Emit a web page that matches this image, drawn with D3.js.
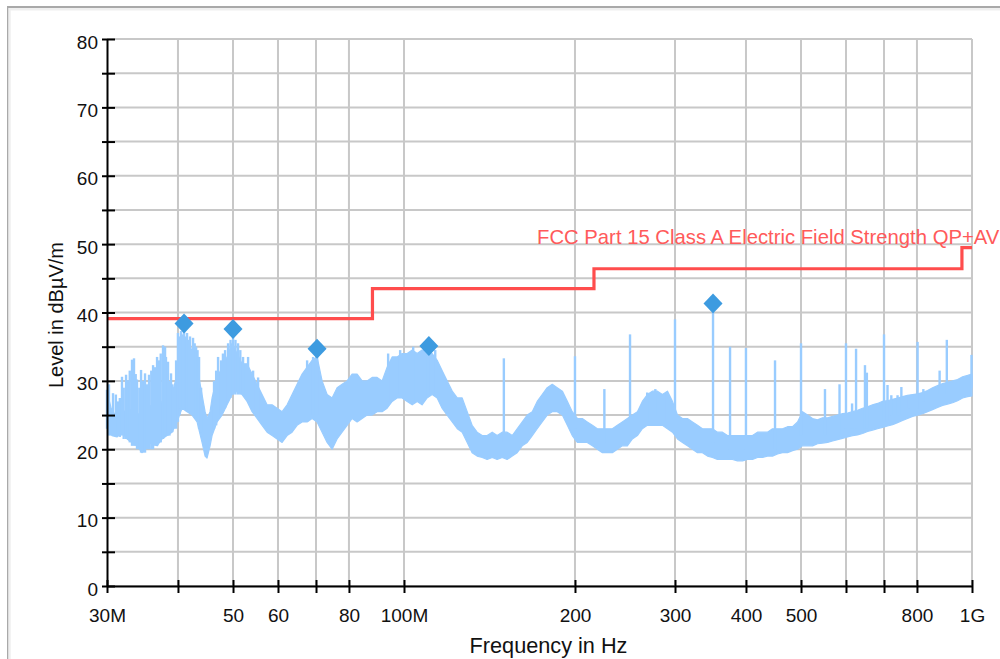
<!DOCTYPE html>
<html><head><meta charset="utf-8">
<script src="https://cdn.jsdelivr.net/npm/d3@7"></script>
<style>
html,body{margin:0;padding:0;background:#fff;}
svg{display:block;font-family:"Liberation Sans",Arial,sans-serif;}
</style></head>
<body><svg id="chart" width="1000" height="659"></svg>
<script>
// ---- data ----
const yTickValues = [0,5,10,15,20,25,30,35,40,45,50,55,60,65,70,75,80];
const yTickLabels = ["0","","10","","20","","30","","40","","50","","60","","70","","80"];
const xTickValues = [30,40,50,60,70,80,100,200,300,400,500,600,700,800,1000];
const xTickLabels = ["30M","","50","60","","80","100M","200","300","400","500","","","800","1G"];
const xGridValues = [40,50,60,70,80,100,200,300,400,500,600,700,800,1000];

// limit line (MHz, dBµV/m)
const limitFreq  = [30, 88, 88, 216, 216, 960, 960, 1000];
const limitLevel = [39.1, 39.1, 43.5, 43.5, 46.4, 46.4, 49.5, 49.5];
const limitLabel = "FCC Part 15 Class A Electric Field Strength QP+AV";

// peak markers
const peakFreq  = [41.0, 50.0, 70.3, 110.6, 350.0];
const peakLevel = [38.4, 37.6, 34.7, 35.1, 41.3];

// spectrum envelope rows: [MHz, low dB, high dB]
const spectrumEnvelope = [
[30.0,23.5,28.5],[30.61,22.0,25.5],[31.24,21.8,25.0],[31.88,22.5,26.0],[32.54,21.5,25.0],
[33.20,21.0,26.0],[33.88,20.5,25.0],[34.58,19.5,25.5],[35.28,20.5,26.0],[36.01,21.0,26.5],
[36.75,20.5,26.0],[37.50,21.5,27.0],[38.27,22.0,27.5],[39.05,22.5,28.0],[39.85,24.0,31.0],
[40.67,26.0,35.0],[41.50,25.5,35.5],[42.35,25.0,34.5],[43.22,24.0,32.0],[44.10,21.0,28.0],
[44.65,19.0,25.5],[45.00,18.7,24.5],[45.56,20.5,25.5],[45.93,22.0,27.5],[46.87,24.0,30.5],
[47.83,25.0,32.0],[48.81,26.5,33.5],[49.81,28.0,35.5],[50.83,28.5,34.0],[51.87,28.0,32.5],
[52.93,27.0,32.5],[54.02,25.5,31.0],[55.12,24.5,29.5],[56.25,23.5,28.0],[57.41,22.5,26.5],
[58.58,22.0,26.5],[59.78,21.5,26.0],[61.01,21.0,25.5],[62.26,22.0,26.5],[63.53,22.5,28.0],
[64.83,23.5,29.5],[66.16,24.0,31.0],[67.52,24.0,32.0],[68.90,24.5,33.0],[70.31,24.0,33.5],
[71.75,22.5,30.0],[73.22,21.0,28.0],[74.72,20.0,27.5],[76.25,21.5,29.0],[77.81,22.5,29.5],
[79.41,23.5,30.0],[81.03,24.5,31.0],[82.69,24.0,31.0],[84.39,24.5,30.0],[86.12,25.0,30.0],
[87.88,25.0,30.5],[89.68,25.5,30.5],[91.52,25.5,30.0],[93.39,26.0,32.0],[95.31,27.0,33.5],
[97.26,27.5,33.5],[99.25,27.5,34.0],[101.3,27.0,34.0],[103.4,26.5,34.5],[105.5,27.0,34.0],
[107.6,26.5,34.5],[109.8,27.5,34.5],[112.1,28.0,34.0],[114.4,27.5,33.0],[116.7,26.0,31.5],
[119.1,25.0,30.0],[121.6,24.0,28.5],[124.1,23.0,27.5],[126.6,22.5,27.5],[129.2,21.0,25.5],
[131.8,19.5,23.5],[134.5,19.0,22.5],[137.3,18.8,22.0],[140.1,18.5,22.0],[143.0,18.8,22.5],
[145.9,18.5,22.0],[148.9,18.8,22.5],[151.9,18.5,22.5],[155.1,19.0,22.0],[158.2,19.5,23.0],
[161.5,20.5,24.0],[164.8,21.0,25.0],[168.2,22.0,25.5],[171.6,23.0,27.0],[175.1,24.0,28.0],
[178.7,25.0,29.0],[182.4,25.5,29.5],[186.1,25.5,29.0],[190.0,25.0,28.5],[193.9,23.5,27.0],
[197.8,22.0,25.5],[201.9,21.0,24.5],[206.0,21.0,24.5],[210.2,21.0,24.0],[214.6,20.5,23.5],
[219.0,20.0,23.0],[223.5,19.5,23.0],[228.0,19.5,23.0],[232.7,19.5,23.0],[237.5,20.0,23.5],
[242.3,20.5,24.0],[247.3,20.5,24.5],[252.4,21.5,25.0],[257.6,22.0,25.5],[262.8,23.0,27.0],
[268.2,23.5,28.0],[273.7,23.5,28.5],[279.4,23.5,28.5],[285.1,23.5,28.0],[290.9,23.0,28.5],
[296.9,22.5,27.0],[303.0,21.5,25.0],[309.2,21.0,24.5],[315.5,20.5,24.5],[322.0,20.0,24.0],
[328.6,19.5,23.5],[335.3,19.5,23.0],[342.2,19.0,23.0],[349.2,18.8,23.0],[356.3,18.5,22.5],
[363.6,18.5,22.5],[371.1,18.5,22.0],[378.7,18.5,22.0],[386.5,18.3,22.0],[394.4,18.3,22.0],
[402.5,18.5,22.0],[410.7,18.5,22.0],[419.1,18.8,22.5],[427.7,18.8,22.5],[436.5,19.0,22.5],
[445.4,19.0,23.0],[454.6,19.3,23.0],[463.9,19.5,23.0],[473.4,19.5,23.3],[483.1,19.8,23.3],
[493.0,20.0,24.0],[503.1,20.5,25.5],[513.4,20.5,25.0],[523.9,20.5,24.5],[534.6,20.8,24.3],
[545.6,20.9,24.6],[556.8,21.0,24.6],[568.2,21.2,24.8],[579.8,21.4,25.0],[591.7,21.6,25.2],
[603.8,21.8,25.3],[616.2,22.0,25.5],[628.8,22.1,25.7],[641.7,22.3,26.0],[654.8,22.6,26.2],
[668.2,22.8,26.5],[681.9,23.0,26.7],[695.9,23.2,27.0],[710.1,23.4,27.1],[724.7,23.6,27.3],
[739.5,23.9,27.5],[754.7,24.2,27.7],[770.1,24.5,27.9],[785.9,24.8,28.0],[802.0,25.0,28.1],
[818.5,25.2,28.3],[835.2,25.5,28.6],[852.3,25.8,29.0],[869.8,26.1,29.3],[887.6,26.4,29.6],
[905.8,26.6,29.8],[924.4,26.8,30.0],[943.3,27.1,30.2],[962.7,27.5,30.6],[982.4,27.7,30.8],
[1000,27.8,31.0]
];

// narrow excursions / spikes rows: [MHz, low dB, high dB]
const spectrumSpikes = [
[30.0,23,28.7],[30.24,22,29.5],[30.5,22,26],[30.74,22,28.2],[31.1,22,28],[31.37,22,27],[31.6,21.8,27.5],
[31.88,22,30.6],[32.1,21.5,29],[32.41,21.5,30.9],[32.67,21.5,30.1],[32.9,21,31.5],[33.20,20.5,33.1],
[33.47,20.5,33.3],[33.7,20.5,31],[33.88,20,30.2],[34.2,20,29],[34.44,19.5,31.6],[34.7,19.5,30],
[35.0,19.5,31.1],[35.3,20,29.5],[35.57,20,30.9],[35.9,20,31.5],[36.16,20,32.3],[36.45,20.5,32],
[36.75,20.5,33.5],[37.05,21,33],[37.3,21,34],[37.65,21.5,35.2],[37.96,22,35],[38.1,22,33.5],
[38.42,22,32.8],[38.65,22,30],[38.89,22.5,31.1],[39.1,22.5,29.5],[39.37,23,29],[39.7,23,33],
[40.0,24,37],[40.25,25,36.5],[40.50,26,37.3],[40.75,26,36.8],[41.0,26,37.5],[41.25,26,36.5],
[41.50,25.5,37],[41.75,25.5,36],[42.0,25.5,36.5],[42.52,25,36.3],[42.8,25,35.5],[43.05,24.5,35],
[43.3,24,34.5],[43.57,23,33.5],[43.93,22.5,29],
[46.30,23,30],[46.7,23.5,31.5],[47.06,24.5,33.5],[47.64,25,33],[48.0,25.5,34],[48.42,26,34.5],
[49.01,27,35.5],[49.5,27.5,36],[50.01,28,37],[50.5,28,36],[51.03,28,35.5],[51.5,28,34.5],
[52.08,28,33.5],[53.15,27,33.5],[54.24,25.5,31.5],[55.35,24.5,30.5],
[67.52,24,33],[69.18,25,33.5],[70.3,25,34],[93.77,27,34],[98.45,28,34.5],[103.8,27,35],
[110.2,28,35],[113.5,28,34.5],
[149.9,21,33.3],[200,23,33.6],[225.3,21,28.8],[250,22,36.8],[268,24,28.3],[277,25,28.8],
[290,24,28.3],[300,24,39],[350,21,41],
[375,20,35],[400,20,34.8],[450,20,33],[500,22,35.5],[551,22,28.8],[584.5,22,29.5],
[600,23,35.5],[615,23,26.7],[625,23,34.7],[648,23,32.3],[653,23,31.2],[700,24,36.8],
[710,24,29.4],[721,25,27.9],[739.5,25,27.9],[751,25,29.1],[773,26,27.9],[802,26,35.7],
[821,27,28.8],[877,28,31.5],[903,28,36],[998,29,33.8]
];

// ---- drawing ----
const svg = d3.select("#chart");
const x = d3.scaleLog().domain([30, 1000]).range([107, 972]);
const y = d3.scaleLinear().domain([0, 80]).range([586, 39]);

const traceColor = "#99ccff";
const gridColor = "#c8c8c8";
const limitColor = "#ff4d4d";
const peakColor = "#3d9be0";

// frame
svg.append("rect").attr("x", 8).attr("y", 7).attr("width", 1010).attr("height", 700)
  .attr("fill", "none").attr("stroke", "#a9a9a9").attr("stroke-width", 2);
svg.append("path").attr("d", "M9.5,1000V9.2H1000").attr("fill","none")
  .attr("stroke", "#efefef").attr("stroke-width", 2.5);

// grid
const grid = svg.append("g");
grid.selectAll("line.h").data(yTickValues).join("line")
  .attr("x1", x(30)).attr("x2", x(1000))
  .attr("y1", d => y(d)).attr("y2", d => y(d))
  .attr("stroke", gridColor).attr("stroke-width", 2);
grid.selectAll("line.v").data(xGridValues).join("line")
  .attr("x1", d => x(d)).attr("x2", d => x(d))
  .attr("y1", y(0)).attr("y2", y(80))
  .attr("stroke", gridColor).attr("stroke-width", 2);

// spectrum envelope
const area = d3.area().x(d => x(d[0])).y0(d => y(d[1])).y1(d => y(d[2]));
svg.append("path").datum(spectrumEnvelope).attr("d", area)
  .attr("fill", traceColor).attr("stroke", traceColor).attr("stroke-width", 1.2)
  .attr("stroke-linejoin", "round");

// spikes
svg.append("g").selectAll("line").data(spectrumSpikes).join("line")
  .attr("x1", d => x(d[0])).attr("x2", d => x(d[0]))
  .attr("y1", d => y(d[1])).attr("y2", d => y(d[2]))
  .attr("stroke", traceColor).attr("stroke-width", 2.4);

// limit line
const limitPts = limitFreq.map((f, i) => [f, limitLevel[i]]);
svg.append("path").datum(limitPts)
  .attr("d", d3.line().x(d => x(d[0])).y(d => y(d[1])))
  .attr("fill", "none").attr("stroke", limitColor).attr("stroke-width", 3.2);
svg.append("text").attr("x", 537).attr("y", 244)
  .attr("fill", "#ff5a5a").attr("font-size", 20.3).text(limitLabel);

// peak markers
svg.append("g").selectAll("path").data(peakFreq.map((f, i) => [f, peakLevel[i]])).join("path")
  .attr("transform", d => `translate(${x(d[0])},${y(d[1])})`)
  .attr("d", "M0,-10L9.5,0L0,10L-9.5,0Z")
  .attr("fill", peakColor);

// axes
const xAxis = d3.axisBottom(x).tickValues(xTickValues)
  .tickFormat((d, i) => xTickLabels[i]).tickSizeInner(7).tickSizeOuter(0);
const gx = svg.append("g").attr("transform", `translate(0,${y(0)})`).call(xAxis);
gx.select(".domain").attr("stroke", "#000").attr("stroke-width", 2);
gx.selectAll(".tick line").attr("y1", -6).attr("stroke", "#000").attr("stroke-width", 2);
gx.selectAll(".tick text").attr("y", 36).attr("dy", 0)
  .attr("font-size", 19).attr("fill", "#111").attr("font-family", "Liberation Sans, Arial, sans-serif");

const yAxis = d3.axisLeft(y).tickValues(yTickValues)
  .tickFormat((d, i) => yTickLabels[i]).tickSizeInner(5).tickSizeOuter(0);
const gy = svg.append("g").attr("transform", `translate(${x(30)},0)`).call(yAxis);
gy.select(".domain").attr("stroke", "#000").attr("stroke-width", 2);
gy.selectAll(".tick line").attr("x1", 8).attr("stroke", "#000").attr("stroke-width", 2);
gy.selectAll(".tick text").attr("x", -9).attr("dy", 9)
  .attr("font-size", 19).attr("fill", "#111").attr("font-family", "Liberation Sans, Arial, sans-serif");

// axis titles
svg.append("text").attr("x", 548.5).attr("y", 653).attr("text-anchor", "middle")
  .attr("font-size", 21.7).attr("fill", "#111").text("Frequency in Hz");
svg.append("text").attr("transform", "translate(63,315) rotate(-90)").attr("text-anchor", "middle")
  .attr("font-size", 20).attr("fill", "#111").text("Level in dBµV/m");
</script>
</body></html>
